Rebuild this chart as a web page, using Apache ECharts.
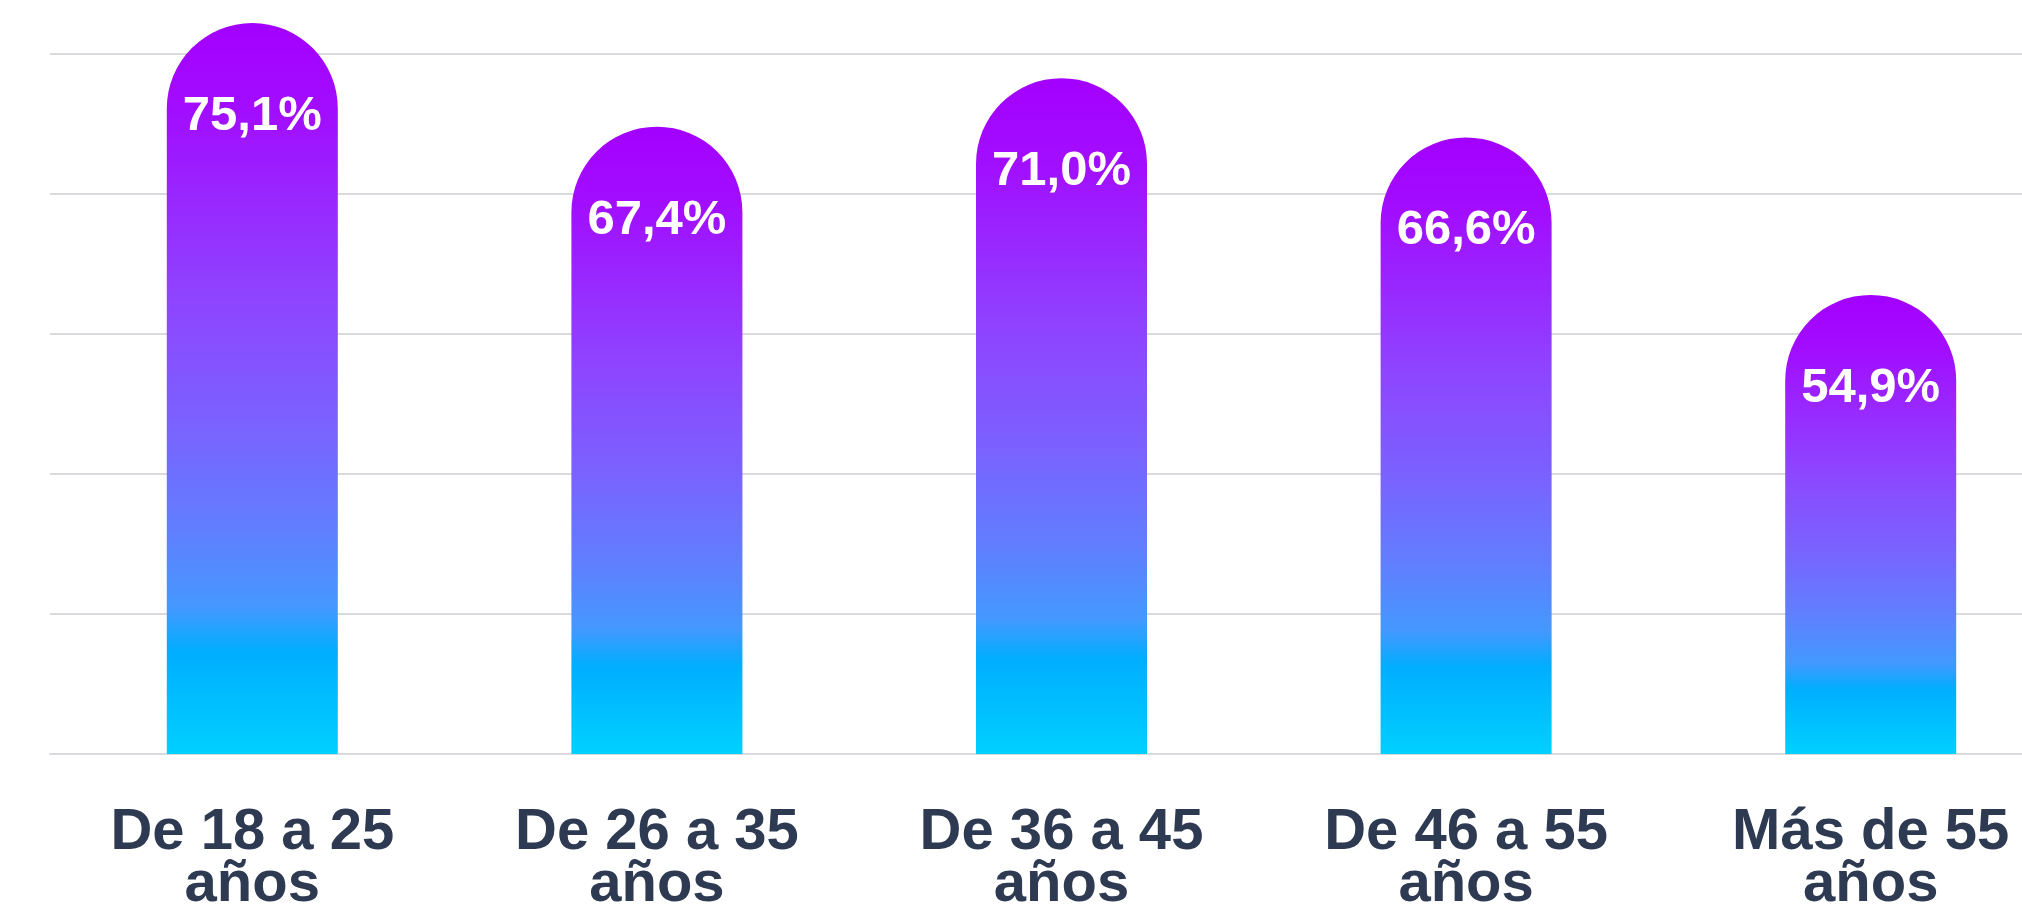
<!DOCTYPE html>
<html>
<head>
<meta charset="utf-8">
<title>Porcentaje por edad</title>
<script src="https://cdn.jsdelivr.net/npm/echarts@6/dist/echarts.min.js"></script>
<style>
  html, body { margin: 0; padding: 0; background: #fff; }
  #chart { width: 2022px; height: 911px; }
</style>
</head>
<body>
<div id="chart"></div>
<script>
// data
var categories = ['De 18 a 25\naños', 'De 26 a 35\naños', 'De 36 a 45\naños', 'De 46 a 55\naños', 'Más de 55\naños'];
var values = [75.1, 67.4, 71.0, 66.6, 54.9];

// axis range picked so the bars sit like in the picture;
// the top tick (83.2) falls above the page, so the first visible line is 72.8
var yMin = 20.8;
var yMax = 83.2;
var yStep = 10.4;

var chart = echarts.init(document.getElementById('chart'));

var barFill = new echarts.graphic.LinearGradient(0, 0, 0, 1, [
    { offset: 0, color: '#a300ff' },
    { offset: 0.12, color: '#a20dff' },
    { offset: 0.38, color: '#8e45ff' },
    { offset: 0.55, color: '#7a62ff' },
    { offset: 0.70, color: '#5f80ff' },
    { offset: 0.80, color: '#4498ff' },
    { offset: 0.86, color: '#00aeff' },
    { offset: 1, color: '#00d0ff' }
]);

var option = {
    backgroundColor: '#ffffff',
    animation: false,
    grid: { left: 50, right: -51, top: -86, bottom: 157, outerBoundsMode: 'none', containLabel: false },
    xAxis: {
        type: 'category',
        data: categories,
        axisTick: { show: false },
        axisLine: { show: true, lineStyle: { color: '#d9d9de', width: 2 } },
        axisLabel: {
            margin: 53,
            fontFamily: 'Liberation Sans',
            fontSize: 58,
            fontWeight: 'bold',
            lineHeight: 52,
            color: '#2e3a52'
        }
    },
    yAxis: {
        type: 'value',
        min: yMin,
        max: yMax,
        interval: yStep,
        axisLabel: { show: false },
        axisLine: { show: false },
        axisTick: { show: false },
        splitLine: { lineStyle: { color: '#d9d9de', width: 2 } }
    },
    series: [{
        type: 'bar',
        data: values,
        barWidth: 171,
        clip: true,
        itemStyle: {
            color: barFill,
            borderRadius: [85.5, 85.5, 0, 0]
        },
        label: {
            show: true,
            position: 'insideTop',
            distance: 69,
            fontFamily: 'Liberation Sans',
            fontSize: 49,
            fontWeight: 'bold',
            color: '#ffffff',
            formatter: function (p) {
                return p.value.toFixed(1).replace('.', ',') + '%';
            }
        }
    }]
};

chart.setOption(option);
</script>
</body>
</html>
